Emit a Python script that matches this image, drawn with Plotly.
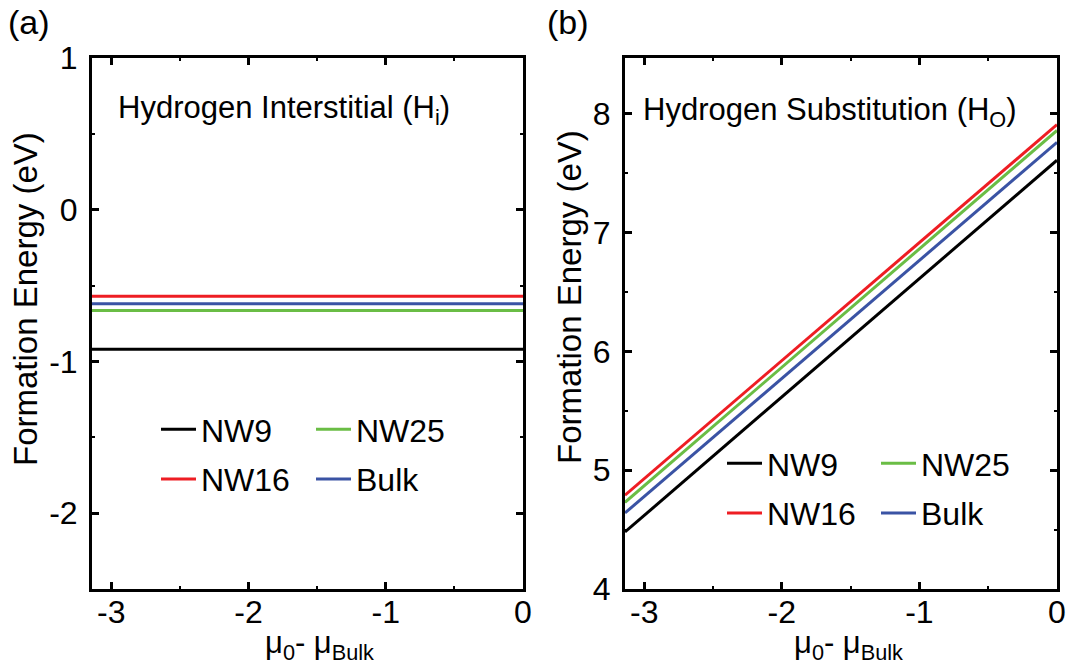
import plotly.graph_objects as go
from plotly.subplots import make_subplots

# Chemical potential range (mu_0 - mu_Bulk), endpoints of each line
mu = [-3.14, 0.0]

series = ["NW9", "NW16", "NW25", "Bulk"]
colors = {"NW9": "#000000", "NW16": "#EE1D23", "NW25": "#6ABD45", "Bulk": "#3A53A4"}

# (a) Hydrogen interstitial formation energy (eV), flat in mu
E_interstitial = {"NW9": [-0.92, -0.92], "NW16": [-0.57, -0.57],
                  "NW25": [-0.665, -0.665], "Bulk": [-0.62, -0.62]}

# (b) Hydrogen substitution formation energy (eV) at the two mu endpoints
E_substitution = {"NW9": [4.48, 7.61], "NW16": [4.79, 7.91],
                  "NW25": [4.73, 7.86], "Bulk": [4.64, 7.76]}

# Tick labels (plain hyphen as minus sign)
x_tickvals = [-3, -2, -1, 0]
x_ticktext = ["-3", "-2", "-1", "0"]
ya_tickvals = [-2, -1, 0, 1]
ya_ticktext = ["-2", "-1", "0", "1"]
yb_tickvals = [4, 5, 6, 7, 8]
yb_ticktext = ["4", "5", "6", "7", "8"]

FONT = "Liberation Sans, Arial, Helvetica, sans-serif"
W, H = 1068, 671

fig = make_subplots(rows=1, cols=2)

legend_of = {
    1: {"NW9": "legend", "NW16": "legend", "NW25": "legend2", "Bulk": "legend2"},
    2: {"NW9": "legend3", "NW16": "legend3", "NW25": "legend4", "Bulk": "legend4"},
}

for col, data in ((1, E_interstitial), (2, E_substitution)):
    for i, name in enumerate(series):
        fig.add_trace(
            go.Scatter(
                x=mu, y=data[name], mode="lines", name=name,
                line=dict(color=colors[name], width=3),
                legend=legend_of[col][name],
                legendgroup=f"{col}-{name}",
                legendrank=i,
            ),
            row=1, col=col,
        )

def px_x(p):
    return p / W

def px_y(p):
    return (H - p) / H

ydom = [px_y(589), px_y(58)]
xdom_a = [px_x(92), px_x(523)]
xdom_b = [px_x(625), px_x(1057)]

axis_common = dict(
    automargin=False,
    showline=True, linecolor="black", linewidth=3, mirror="ticks",
    ticks="inside", ticklen=7, tickwidth=2.5, tickcolor="black",
    showgrid=False, zeroline=False, tickmode="array",
    tickfont=dict(family=FONT, size=32, color="black"),
    minor=dict(ticks="inside", ticklen=3, tickwidth=2, tickcolor="black",
               tickmode="linear", tick0=0, dtick=0.5, showgrid=False),
)

fig.update_xaxes(axis_common)
fig.update_yaxes(axis_common)

fig.update_layout(
    xaxis=dict(domain=xdom_a, range=[-3.14, 0], tickvals=x_tickvals, ticktext=x_ticktext, ticklabelstandoff=-7),
    xaxis2=dict(domain=xdom_b, range=[-3.14, 0], tickvals=x_tickvals, ticktext=x_ticktext, ticklabelstandoff=-7),
    yaxis=dict(domain=ydom, range=[-2.5, 1], tickvals=ya_tickvals, ticktext=ya_ticktext, ticklabelstandoff=5),
    yaxis2=dict(domain=ydom, range=[4.0, 8.47], tickvals=yb_tickvals, ticktext=yb_ticktext, ticklabelstandoff=5),
)

legend_common = dict(
    font=dict(family=FONT, size=32, color="black"),
    bgcolor="rgba(0,0,0,0)", borderwidth=0, tracegroupgap=5, itemwidth=35,
    xanchor="left", yanchor="top", orientation="v",
)
fig.update_layout(
    legend=dict(legend_common, x=px_x(156), y=px_y(402)),
    legend2=dict(legend_common, x=px_x(311), y=px_y(402)),
    legend3=dict(legend_common, x=px_x(722), y=px_y(436)),
    legend4=dict(legend_common, x=px_x(876), y=px_y(436)),
)

def note(text, x, y, size, xanchor="left", angle=0):
    fig.add_annotation(text=text, x=px_x(x), y=px_y(y), xref="paper", yref="paper",
                       xanchor=xanchor, yanchor="middle", showarrow=False,
                       textangle=angle, font=dict(family=FONT, size=size, color="black"))

# Panel labels and headings
note("(a)", 6, 22, 34)
note("(b)", 545, 22, 34)
note("Hydrogen Interstitial (H<sub>i</sub>)", 116, 110, 31)
note("Hydrogen Substitution (H<sub>O</sub>)", 641, 112, 31)

# Axis titles
ytitle = "Formation Energy (eV)"
xtitle = "μ<sub>0</sub>- μ<sub>Bulk</sub>"
note(ytitle, 25, 299, 33, xanchor="center", angle=-90)
note(ytitle, 569, 297, 33, xanchor="center", angle=-90)
note(xtitle, 319, 645, 31, xanchor="center")
note(xtitle, 848, 645, 31, xanchor="center")

fig.update_layout(
    width=W, height=H,
    margin=dict(l=0, r=0, t=0, b=0, autoexpand=False),
    paper_bgcolor="white", plot_bgcolor="white",
    showlegend=True,
)

fig.write_html("out.html")
